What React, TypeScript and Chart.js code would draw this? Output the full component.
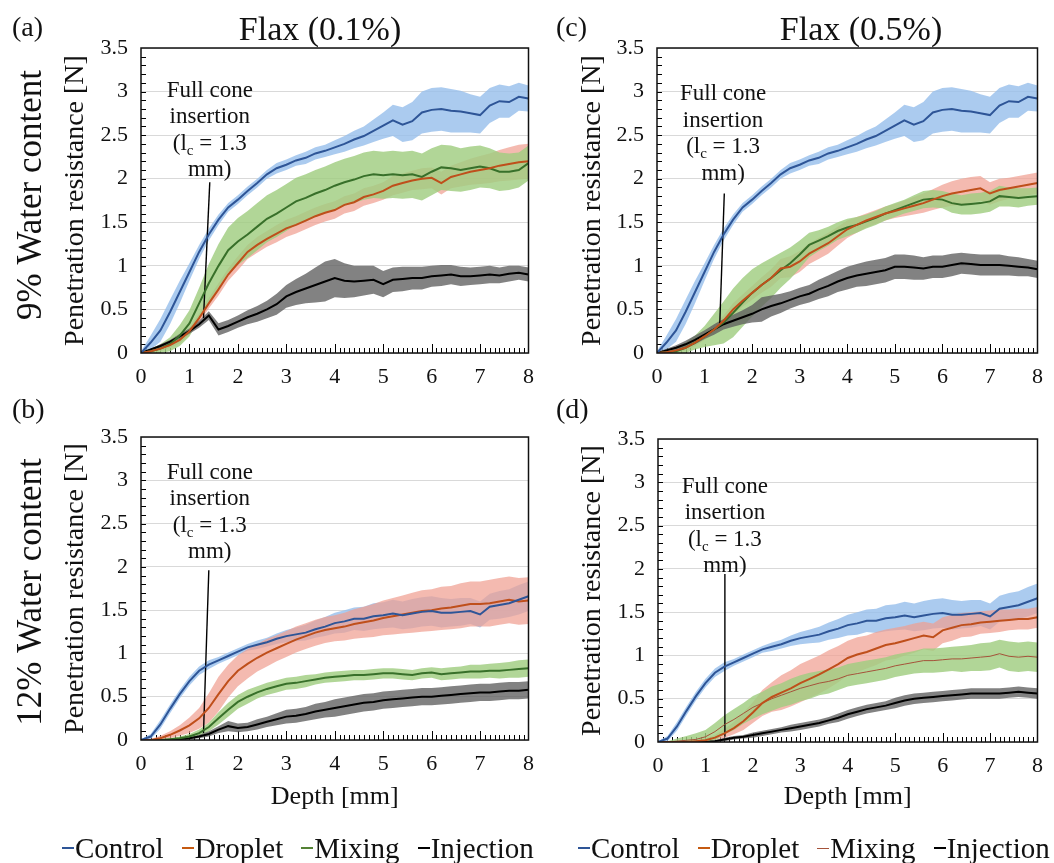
import React, { useEffect, useRef } from 'react';
import { Chart, registerables } from 'chart.js';

Chart.register(...registerables);

const SERIF = '"Liberation Serif", "Times New Roman", Times, serif';

// ---------- data ----------
const depth = [0, 0.2, 0.4, 0.6, 0.8, 1, 1.2, 1.4, 1.6, 1.8, 2, 2.2, 2.4, 2.6, 2.8, 3, 3.2, 3.4, 3.6, 3.8, 4, 4.2, 4.4, 4.6, 4.8, 5, 5.2, 5.4, 5.6, 5.8, 6, 6.2, 6.4, 6.6, 6.8, 7, 7.2, 7.4, 7.6, 7.8, 8];
const seriesNames = ['Control', 'Droplet', 'Mixing', 'Injection'];
const xTickLabels = ['0', '1', '2', '3', '4', '5', '6', '7', '8'];
const yTickLabels = ['0', '0.5', '1', '1.5', '2', '2.5', '3', '3.5'];
const annoLines = ['Full cone', 'insertion', '(l', 'c', ' = 1.3', 'mm)'];

// Control, 9% water content (shared by a and c)
const ctrl9 = [0, 0.12, 0.26, 0.47, 0.70, 0.93, 1.16, 1.36, 1.53, 1.67, 1.76, 1.86, 1.95, 2.05, 2.12, 2.16, 2.21, 2.24, 2.29, 2.32, 2.36, 2.40, 2.45, 2.49, 2.55, 2.61, 2.67, 2.62, 2.66, 2.76, 2.79, 2.80, 2.78, 2.77, 2.75, 2.73, 2.84, 2.89, 2.88, 2.94, 2.92];
const ctrl9Sd = [0.02, 0.08, 0.13, 0.14, 0.13, 0.10, 0.08, 0.07, 0.06, 0.05, 0.05, 0.05, 0.05, 0.05, 0.06, 0.06, 0.06, 0.07, 0.07, 0.07, 0.08, 0.09, 0.10, 0.11, 0.13, 0.15, 0.18, 0.20, 0.22, 0.24, 0.25, 0.25, 0.25, 0.24, 0.22, 0.21, 0.20, 0.19, 0.18, 0.16, 0.15];
// Control, 12% water content (shared by b and d)
const ctrl12 = [0, 0.04, 0.18, 0.36, 0.53, 0.68, 0.80, 0.87, 0.92, 0.97, 1.02, 1.07, 1.10, 1.13, 1.17, 1.20, 1.22, 1.24, 1.28, 1.31, 1.35, 1.37, 1.40, 1.40, 1.43, 1.44, 1.46, 1.44, 1.46, 1.48, 1.49, 1.47, 1.47, 1.48, 1.49, 1.45, 1.54, 1.56, 1.58, 1.62, 1.66];
const ctrl12Sd = [0.01, 0.03, 0.05, 0.05, 0.05, 0.05, 0.05, 0.05, 0.04, 0.04, 0.04, 0.04, 0.05, 0.05, 0.06, 0.07, 0.08, 0.09, 0.10, 0.11, 0.12, 0.13, 0.13, 0.14, 0.15, 0.15, 0.16, 0.16, 0.17, 0.17, 0.17, 0.17, 0.16, 0.16, 0.15, 0.15, 0.15, 0.16, 0.16, 0.17, 0.17];

// (a) Flax 0.1 %, 9 %
const aDrop = [0, 0.02, 0.05, 0.09, 0.15, 0.25, 0.40, 0.57, 0.73, 0.90, 1.03, 1.16, 1.24, 1.31, 1.37, 1.43, 1.47, 1.52, 1.57, 1.61, 1.64, 1.70, 1.73, 1.79, 1.82, 1.86, 1.92, 1.95, 1.98, 2.00, 2.01, 1.95, 2.02, 2.05, 2.08, 2.10, 2.12, 2.15, 2.17, 2.19, 2.20];
const aDropSd = [0.01, 0.02, 0.03, 0.03, 0.04, 0.04, 0.05, 0.06, 0.07, 0.07, 0.08, 0.08, 0.09, 0.09, 0.10, 0.10, 0.10, 0.10, 0.10, 0.10, 0.10, 0.10, 0.10, 0.10, 0.10, 0.10, 0.11, 0.11, 0.11, 0.12, 0.12, 0.13, 0.13, 0.14, 0.15, 0.16, 0.17, 0.18, 0.19, 0.20, 0.20];
const aMix = [0, 0.02, 0.05, 0.10, 0.20, 0.34, 0.57, 0.80, 1.00, 1.18, 1.28, 1.36, 1.45, 1.54, 1.60, 1.67, 1.74, 1.78, 1.83, 1.87, 1.92, 1.96, 1.99, 2.03, 2.05, 2.04, 2.05, 2.04, 2.05, 2.02, 2.08, 2.13, 2.12, 2.10, 2.12, 2.14, 2.12, 2.08, 2.08, 2.10, 2.18];
const aMixSd = [0.01, 0.03, 0.05, 0.08, 0.12, 0.15, 0.18, 0.22, 0.25, 0.26, 0.27, 0.27, 0.27, 0.27, 0.27, 0.27, 0.27, 0.27, 0.27, 0.27, 0.27, 0.27, 0.27, 0.27, 0.27, 0.27, 0.27, 0.27, 0.27, 0.27, 0.27, 0.26, 0.26, 0.25, 0.25, 0.24, 0.23, 0.22, 0.21, 0.20, 0.20];
const aInj = [0, 0.04, 0.08, 0.13, 0.19, 0.25, 0.33, 0.43, 0.27, 0.31, 0.36, 0.41, 0.45, 0.50, 0.56, 0.65, 0.70, 0.74, 0.78, 0.82, 0.86, 0.83, 0.82, 0.83, 0.84, 0.79, 0.84, 0.85, 0.86, 0.86, 0.88, 0.89, 0.90, 0.88, 0.88, 0.89, 0.90, 0.89, 0.91, 0.92, 0.90];
const aInjSd = [0.01, 0.01, 0.02, 0.02, 0.03, 0.03, 0.04, 0.05, 0.07, 0.07, 0.07, 0.08, 0.09, 0.10, 0.12, 0.13, 0.15, 0.17, 0.20, 0.23, 0.22, 0.20, 0.18, 0.17, 0.16, 0.15, 0.14, 0.14, 0.13, 0.13, 0.12, 0.12, 0.11, 0.11, 0.10, 0.10, 0.10, 0.09, 0.09, 0.08, 0.08];

// (c) Flax 0.5 %, 9 %
const cDrop = [0, 0.01, 0.03, 0.06, 0.12, 0.19, 0.27, 0.37, 0.50, 0.60, 0.69, 0.78, 0.86, 0.97, 0.99, 1.05, 1.14, 1.20, 1.26, 1.34, 1.42, 1.47, 1.52, 1.56, 1.60, 1.63, 1.66, 1.69, 1.72, 1.76, 1.80, 1.83, 1.85, 1.87, 1.89, 1.83, 1.87, 1.89, 1.91, 1.93, 1.95];
const cDropSd = [0.01, 0.02, 0.03, 0.03, 0.04, 0.04, 0.05, 0.06, 0.07, 0.07, 0.08, 0.09, 0.10, 0.11, 0.12, 0.12, 0.12, 0.12, 0.12, 0.11, 0.10, 0.09, 0.08, 0.08, 0.08, 0.08, 0.09, 0.10, 0.11, 0.12, 0.13, 0.14, 0.15, 0.15, 0.14, 0.13, 0.13, 0.12, 0.12, 0.12, 0.12];
const cMix = [0, 0.01, 0.02, 0.06, 0.12, 0.19, 0.27, 0.35, 0.46, 0.58, 0.69, 0.78, 0.86, 0.95, 1.03, 1.13, 1.24, 1.29, 1.34, 1.40, 1.44, 1.47, 1.51, 1.55, 1.60, 1.64, 1.68, 1.72, 1.76, 1.77, 1.76, 1.72, 1.70, 1.71, 1.72, 1.74, 1.80, 1.79, 1.78, 1.79, 1.80];
const cMixSd = [0.01, 0.02, 0.04, 0.06, 0.08, 0.12, 0.18, 0.24, 0.28, 0.28, 0.27, 0.25, 0.23, 0.20, 0.18, 0.16, 0.14, 0.12, 0.11, 0.10, 0.10, 0.09, 0.08, 0.08, 0.08, 0.08, 0.08, 0.09, 0.10, 0.10, 0.10, 0.11, 0.11, 0.12, 0.12, 0.12, 0.12, 0.11, 0.11, 0.10, 0.10];
const cInj = [0, 0.03, 0.06, 0.10, 0.15, 0.21, 0.27, 0.33, 0.37, 0.41, 0.45, 0.50, 0.54, 0.57, 0.61, 0.65, 0.68, 0.73, 0.77, 0.82, 0.86, 0.89, 0.91, 0.93, 0.95, 0.99, 0.99, 0.98, 0.97, 0.99, 0.99, 1.01, 1.03, 1.02, 1.01, 1.01, 1.01, 1.00, 0.99, 0.98, 0.96];
const cInjSd = [0.01, 0.02, 0.03, 0.04, 0.05, 0.05, 0.06, 0.06, 0.07, 0.08, 0.10, 0.14, 0.12, 0.11, 0.10, 0.10, 0.10, 0.11, 0.12, 0.12, 0.13, 0.13, 0.14, 0.14, 0.14, 0.14, 0.14, 0.14, 0.13, 0.13, 0.13, 0.13, 0.12, 0.12, 0.12, 0.12, 0.12, 0.11, 0.11, 0.10, 0.10];

// (b) Flax 0.1 %, 12 %
const bDrop = [0, 0, 0.02, 0.06, 0.11, 0.17, 0.25, 0.37, 0.53, 0.68, 0.80, 0.88, 0.95, 1.01, 1.06, 1.11, 1.16, 1.20, 1.24, 1.27, 1.29, 1.31, 1.34, 1.36, 1.38, 1.41, 1.43, 1.45, 1.47, 1.49, 1.50, 1.52, 1.53, 1.55, 1.57, 1.57, 1.58, 1.60, 1.62, 1.60, 1.61];
const bDropSd = [0, 0.01, 0.03, 0.04, 0.06, 0.09, 0.12, 0.17, 0.20, 0.19, 0.18, 0.17, 0.16, 0.16, 0.15, 0.15, 0.15, 0.15, 0.15, 0.15, 0.15, 0.16, 0.17, 0.18, 0.19, 0.20, 0.21, 0.22, 0.23, 0.24, 0.24, 0.25, 0.25, 0.26, 0.26, 0.26, 0.27, 0.27, 0.27, 0.27, 0.27];
const bMix = [0, 0, 0, 0.01, 0.02, 0.04, 0.08, 0.15, 0.25, 0.35, 0.44, 0.50, 0.55, 0.59, 0.62, 0.65, 0.66, 0.68, 0.70, 0.72, 0.73, 0.74, 0.75, 0.75, 0.76, 0.77, 0.77, 0.76, 0.75, 0.77, 0.78, 0.76, 0.77, 0.78, 0.79, 0.79, 0.80, 0.80, 0.81, 0.82, 0.83];
const bMixSd = [0, 0, 0.01, 0.01, 0.02, 0.03, 0.04, 0.05, 0.07, 0.08, 0.08, 0.08, 0.07, 0.07, 0.07, 0.07, 0.07, 0.07, 0.06, 0.06, 0.06, 0.06, 0.06, 0.06, 0.06, 0.06, 0.06, 0.06, 0.06, 0.06, 0.06, 0.07, 0.07, 0.07, 0.08, 0.08, 0.08, 0.09, 0.09, 0.10, 0.10];
const bInj = [0, 0, 0, 0, 0.01, 0.02, 0.04, 0.07, 0.12, 0.16, 0.14, 0.15, 0.18, 0.21, 0.24, 0.27, 0.28, 0.30, 0.33, 0.35, 0.37, 0.39, 0.41, 0.43, 0.44, 0.46, 0.47, 0.48, 0.49, 0.50, 0.50, 0.51, 0.52, 0.53, 0.54, 0.55, 0.55, 0.56, 0.57, 0.57, 0.58];
const bInjSd = [0, 0, 0, 0, 0.01, 0.01, 0.02, 0.03, 0.04, 0.06, 0.05, 0.05, 0.06, 0.06, 0.07, 0.08, 0.08, 0.08, 0.09, 0.09, 0.10, 0.10, 0.10, 0.10, 0.10, 0.10, 0.10, 0.10, 0.10, 0.10, 0.10, 0.10, 0.10, 0.10, 0.10, 0.10, 0.10, 0.10, 0.10, 0.10, 0.10];

// (d) Flax 0.5 %, 12 %
const dDrop = [0, 0, 0, 0, 0.01, 0.02, 0.05, 0.10, 0.16, 0.24, 0.34, 0.45, 0.52, 0.57, 0.62, 0.68, 0.73, 0.78, 0.84, 0.90, 0.97, 1.01, 1.04, 1.08, 1.12, 1.14, 1.17, 1.20, 1.23, 1.21, 1.29, 1.32, 1.35, 1.36, 1.38, 1.39, 1.40, 1.41, 1.42, 1.42, 1.44];
const dDropSd = [0, 0, 0, 0.01, 0.01, 0.02, 0.03, 0.05, 0.07, 0.10, 0.12, 0.15, 0.17, 0.20, 0.21, 0.22, 0.22, 0.22, 0.22, 0.21, 0.20, 0.20, 0.19, 0.19, 0.18, 0.18, 0.17, 0.17, 0.16, 0.16, 0.15, 0.15, 0.14, 0.14, 0.13, 0.13, 0.13, 0.12, 0.12, 0.12, 0.12];
const dMix = [0, 0, 0.01, 0.02, 0.03, 0.06, 0.12, 0.20, 0.26, 0.33, 0.40, 0.45, 0.50, 0.54, 0.58, 0.62, 0.65, 0.68, 0.70, 0.73, 0.77, 0.79, 0.81, 0.83, 0.85, 0.88, 0.90, 0.92, 0.94, 0.94, 0.95, 0.96, 0.96, 0.97, 0.98, 0.99, 1.02, 0.99, 0.98, 0.99, 0.98];
const dMixSd = [0, 0.01, 0.03, 0.05, 0.07, 0.08, 0.10, 0.11, 0.12, 0.12, 0.13, 0.13, 0.14, 0.14, 0.15, 0.15, 0.15, 0.14, 0.14, 0.13, 0.13, 0.13, 0.13, 0.13, 0.13, 0.13, 0.13, 0.13, 0.14, 0.14, 0.14, 0.14, 0.15, 0.15, 0.16, 0.16, 0.16, 0.17, 0.17, 0.17, 0.17];
const dInj = [0, 0, 0, 0, 0, 0, 0.01, 0.03, 0.05, 0.06, 0.08, 0.10, 0.12, 0.14, 0.16, 0.18, 0.20, 0.22, 0.25, 0.28, 0.32, 0.35, 0.38, 0.40, 0.42, 0.45, 0.48, 0.50, 0.51, 0.52, 0.53, 0.54, 0.55, 0.56, 0.56, 0.56, 0.56, 0.57, 0.58, 0.57, 0.56];
const dInjSd = [0, 0, 0, 0, 0, 0.01, 0.01, 0.02, 0.02, 0.02, 0.03, 0.03, 0.03, 0.03, 0.04, 0.04, 0.04, 0.04, 0.04, 0.05, 0.05, 0.05, 0.05, 0.05, 0.05, 0.06, 0.06, 0.06, 0.06, 0.06, 0.06, 0.06, 0.06, 0.06, 0.06, 0.06, 0.06, 0.06, 0.06, 0.06, 0.06];

// annotation leader lines (depth, resistance)
const annoLineA = [[1.42, 1.96], [1.29, 0.40]];
const annoLineB = [[1.40, 1.96], [1.29, 0.08]];
const annoLineC = [[1.415, 1.83], [1.32, 0.34]];
const annoLineD = [[1.41, 1.94], [1.41, 0.06]];

// ---------- styles ----------
const lineColors = ['#2e5597', '#bf4f1b', '#38702a', '#000000'];
const bandColors = ['rgba(150,190,235,0.8)', 'rgba(240,160,145,0.72)', 'rgba(160,205,128,0.82)', 'rgba(95,95,95,0.78)'];
const legendColors = ['#2e5597', '#c55a11', '#548235', '#000000'];
const thinMixColor = '#a5533a';

type Panel = {
  id: string;
  left: number; top: number; w: number; h: number;
  padT: number; padB: number; padR: number;
  yAxisW: number; xAxisH: number; yTitlePadT: number;
  xTitle: boolean; xTitlePadB: number;
  means: number[][]; sds: number[][];
  thinMix: boolean;
  label: string; labelX: number; labelY: number;
  title?: string; titleX?: number; titleY?: number;
  row?: string; rowX?: number; rowY?: number;
  annoX: number; annoY: number; annoLine: number[][];
};

const panels: Panel[] = [
  {
    id: 'a', left: 0, top: 0, w: 545, h: 400, padT: 48, padB: 7, padR: 14,
    yAxisW: 141, xAxisH: 40, yTitlePadT: 59, xTitle: false, xTitlePadB: 0,
    means: [ctrl9, aDrop, aMix, aInj], sds: [ctrl9Sd, aDropSd, aMixSd, aInjSd], thinMix: false,
    label: '(a)', labelX: 12, labelY: 36, title: 'Flax (0.1%)', titleX: 320, titleY: 40,
    row: '9% Water content', rowX: 32, rowY: 195, annoX: 1.42, annoY: 2.94, annoLine: annoLineA,
  },
  {
    id: 'b', left: 0, top: 390, w: 545, h: 440, padT: 47, padB: 10, padR: 14,
    yAxisW: 141, xAxisH: 80, yTitlePadT: 59, xTitle: true, xTitlePadB: 7,
    means: [ctrl12, bDrop, bMix, bInj], sds: [ctrl12Sd, bDropSd, bMixSd, bInjSd], thinMix: false,
    label: '(b)', labelX: 12, labelY: 28,
    row: '12% Water content', rowX: 32, rowY: 202, annoX: 1.42, annoY: 3.02, annoLine: annoLineB,
  },
  {
    id: 'c', left: 545, top: 0, w: 509, h: 400, padT: 48, padB: 7, padR: 7,
    yAxisW: 112, xAxisH: 40, yTitlePadT: 31, xTitle: false, xTitlePadB: 0,
    means: [ctrl9, cDrop, cMix, cInj], sds: [ctrl9Sd, cDropSd, cMixSd, cInjSd], thinMix: false,
    label: '(c)', labelX: 11, labelY: 36, title: 'Flax (0.5%)', titleX: 316, titleY: 40,
    annoX: 1.39, annoY: 2.90, annoLine: annoLineC,
  },
  {
    id: 'd', left: 545, top: 390, w: 509, h: 440, padT: 49, padB: 8, padR: 7,
    yAxisW: 113, xAxisH: 80, yTitlePadT: 31, xTitle: true, xTitlePadB: 9,
    means: [ctrl12, dDrop, dMix, dInj], sds: [ctrl12Sd, dDropSd, dMixSd, dInjSd], thinMix: true,
    label: '(d)', labelX: 11, labelY: 28,
    annoX: 1.41, annoY: 2.88, annoLine: annoLineD,
  },
];

function makeDecor(p: Panel) {
  return {
    id: 'decor',
    beforeDatasetsDraw(chart: any) {
      const { ctx, chartArea: ca, scales } = chart;
      const x = scales.x, y = scales.y;
      ctx.save();
      ctx.strokeStyle = '#000';
      ctx.lineWidth = 1;
      ctx.beginPath();
      for (let i = 1; i < 80; i++) {
        const px = Math.round(x.getPixelForValue(i / 10)) + 0.5;
        const len = i % 10 === 0 ? 9 : 5;
        ctx.moveTo(px, ca.bottom);
        ctx.lineTo(px, ca.bottom - len);
      }
      for (let i = 1; i < 35; i++) {
        const py = Math.round(y.getPixelForValue(i / 10)) + 0.5;
        ctx.moveTo(ca.left, py);
        ctx.lineTo(ca.left + 5, py);
      }
      ctx.stroke();
      ctx.restore();
    },
    afterDraw(chart: any) {
      const { ctx, chartArea: ca, scales } = chart;
      const x = scales.x, y = scales.y;
      ctx.save();
      // frame
      ctx.strokeStyle = '#111';
      ctx.lineWidth = 1.5;
      ctx.strokeRect(ca.left, ca.top, ca.right - ca.left, ca.bottom - ca.top);

      ctx.fillStyle = '#111';
      ctx.textBaseline = 'alphabetic';
      // panel label
      ctx.font = `28px ${SERIF}`;
      ctx.textAlign = 'left';
      ctx.fillText(p.label, p.labelX, p.labelY);
      // column title
      if (p.title) {
        ctx.font = `34px ${SERIF}`;
        ctx.textAlign = 'center';
        ctx.fillText(p.title, p.titleX, p.titleY);
      }
      // row label
      if (p.row) {
        ctx.save();
        ctx.translate(p.rowX, p.rowY);
        ctx.rotate(-Math.PI / 2);
        ctx.font = `35px ${SERIF}`;
        ctx.textAlign = 'center';
        ctx.textBaseline = 'middle';
        ctx.fillText(p.row, 0, 0);
        ctx.restore();
      }
      // annotation text
      const fs = 23, lh = 26.5, sub = 15;
      const cx = x.getPixelForValue(p.annoX);
      const by = y.getPixelForValue(p.annoY);
      ctx.font = `${fs}px ${SERIF}`;
      ctx.textAlign = 'center';
      ctx.fillText(annoLines[0], cx, by);
      ctx.fillText(annoLines[1], cx, by + lh);
      const wa = ctx.measureText(annoLines[2]).width;
      const wc = ctx.measureText(annoLines[4]).width;
      ctx.font = `${sub}px ${SERIF}`;
      const wb = ctx.measureText(annoLines[3]).width;
      const start = cx - (wa + wb + wc) / 2;
      ctx.textAlign = 'left';
      ctx.fillText(annoLines[3], start + wa, by + 2 * lh + 5);
      ctx.font = `${fs}px ${SERIF}`;
      ctx.fillText(annoLines[2], start, by + 2 * lh);
      ctx.fillText(annoLines[4], start + wa + wb, by + 2 * lh);
      ctx.textAlign = 'center';
      ctx.fillText(annoLines[5], cx, by + 3 * lh);
      ctx.restore();
    },
  };
}

function buildConfig(p: Panel): any {
  const pts = (arr: number[]) => depth.map((d, i) => ({ x: d, y: arr[i] }));
  const datasets: any[] = [];
  // mean lines (lower index = drawn on top)
  p.means.forEach((m, k) => {
    const thin = p.thinMix && k === 2;
    datasets.push({
      label: seriesNames[k],
      data: pts(m),
      borderColor: thin ? thinMixColor : lineColors[k],
      borderWidth: thin ? 1 : 2,
      pointRadius: 0,
      fill: false,
      tension: 0,
    });
  });
  // annotation leader line
  datasets.push({
    label: 'annotation',
    data: p.annoLine.map(([a, b]) => ({ x: a, y: b })),
    borderColor: '#000',
    borderWidth: 1.4,
    pointRadius: 0,
    fill: false,
  });
  // bands: injection on top, control at the bottom
  [3, 2, 1, 0].forEach((k) => {
    const m = p.means[k], s = p.sds[k];
    datasets.push({
      label: seriesNames[k] + ' lo',
      data: depth.map((d, i) => ({ x: d, y: Math.max(0, m[i] - s[i]) })),
      borderColor: 'rgba(0,0,0,0)',
      borderWidth: 0,
      pointRadius: 0,
      fill: false,
    });
    datasets.push({
      label: seriesNames[k] + ' hi',
      data: depth.map((d, i) => ({ x: d, y: m[i] + s[i] })),
      borderColor: 'rgba(0,0,0,0)',
      borderWidth: 0,
      pointRadius: 0,
      backgroundColor: bandColors[k],
      fill: '-1',
    });
  });

  return {
    type: 'line',
    data: { datasets },
    plugins: [makeDecor(p)],
    options: {
      animation: false,
      responsive: false,
      devicePixelRatio: 1,
      events: [],
      layout: { padding: { left: 0, right: p.padR, top: p.padT, bottom: p.padB } },
      plugins: {
        legend: { display: false },
        tooltip: { enabled: false },
        title: { display: false },
      },
      scales: {
        x: {
          type: 'linear',
          min: 0,
          max: 8,
          afterFit: (s: any) => { s.height = p.xAxisH; },
          grid: { display: false, drawTicks: false },
          border: { display: false },
          ticks: {
            stepSize: 1,
            maxRotation: 0,
            autoSkip: false,
            padding: 11,
            color: '#111',
            font: { family: SERIF, size: 22 },
            callback: (v: number) => xTickLabels[Math.round(v)] ?? '',
          },
          title: {
            display: p.xTitle,
            text: 'Depth [mm]',
            color: '#111',
            font: { family: SERIF, size: 26 },
            padding: { top: 0, bottom: p.xTitlePadB },
          },
        },
        y: {
          type: 'linear',
          min: 0,
          max: 3.5,
          afterFit: (s: any) => { s.width = p.yAxisW; },
          grid: { color: '#d9d9d9', lineWidth: 1, drawTicks: false },
          border: { display: false },
          ticks: {
            stepSize: 0.5,
            autoSkip: false,
            padding: 13,
            color: '#111',
            font: { family: SERIF, size: 22 },
            callback: (v: number) => yTickLabels[Math.round(v * 2)] ?? '',
          },
          title: {
            display: true,
            text: 'Penetration resistance [N]',
            color: '#111',
            font: { family: SERIF, size: 28 },
            padding: { top: p.yTitlePadT, bottom: 0 },
          },
        },
      },
    },
  };
}

function PanelChart({ p }: { p: Panel }) {
  const ref = useRef<HTMLCanvasElement>(null);
  useEffect(() => {
    if (!ref.current) return;
    const chart = new Chart(ref.current, buildConfig(p));
    return () => chart.destroy();
  }, [p]);
  return (
    <canvas
      ref={ref}
      width={p.w}
      height={p.h}
      style={{ position: 'absolute', left: p.left, top: p.top, width: p.w, height: p.h }}
    />
  );
}

function Legend({ left, thinMix }: { left: number; thinMix: boolean }) {
  return (
    <div
      style={{
        position: 'absolute', left, top: 832, display: 'flex', alignItems: 'center', gap: 18,
        fontFamily: SERIF, fontSize: 29, lineHeight: '32px', color: '#111', whiteSpace: 'nowrap',
      }}
    >
      {seriesNames.map((name, k) => {
        const thin = thinMix && k === 2;
        return (
          <span key={name} style={{ display: 'flex', alignItems: 'center' }}>
            <span
              style={{
                display: 'inline-block', width: 12, height: thin ? 1 : 2.5,
                background: thin ? thinMixColor : legendColors[k], marginRight: 1,
              }}
            />
            {name}
          </span>
        );
      })}
    </div>
  );
}

export default function App() {
  return (
    <div style={{ position: 'absolute', left: 0, top: 0, width: 1054, height: 863, background: '#fff', overflow: 'hidden' }}>
      {panels.map((p) => <PanelChart key={p.id} p={p} />)}
      <Legend left={62} thinMix={false} />
      <Legend left={578} thinMix />
    </div>
  );
}
